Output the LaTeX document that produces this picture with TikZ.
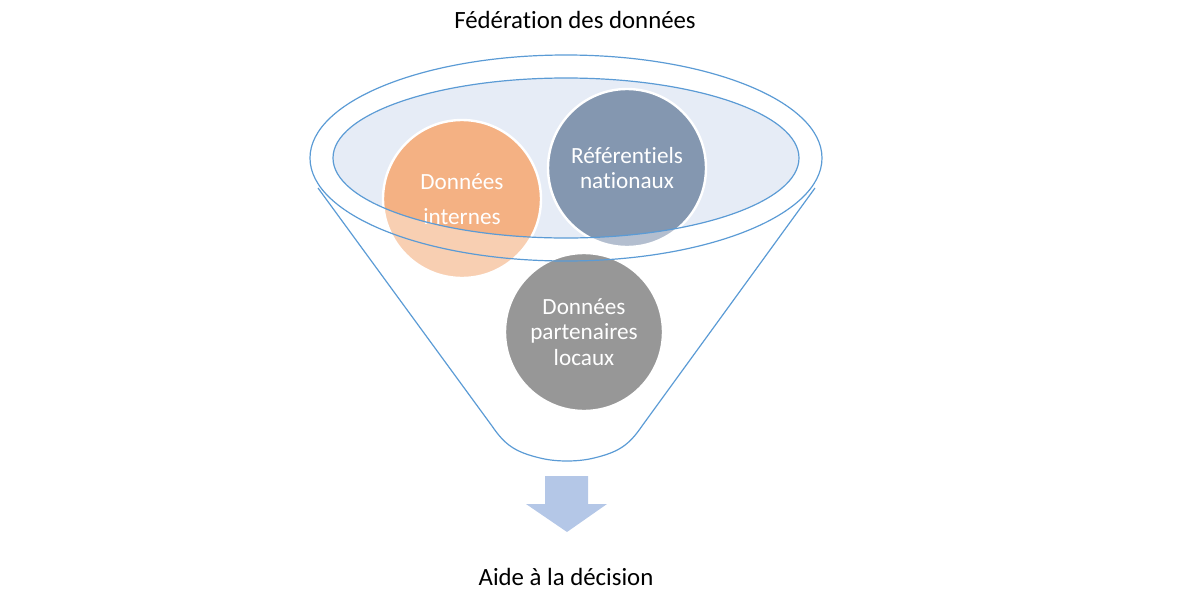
\documentclass[tikz,border=0pt]{standalone}
\usepackage{fontspec}
\setmainfont{Carlito}[Ligatures=NoCommon]
\usetikzlibrary{backgrounds}
\definecolor{fondbleu}{HTML}{E6ECF6}
\definecolor{trait}{HTML}{5B9BD5}
\definecolor{orangeclair}{HTML}{F8CFB2}
\definecolor{orangefonce}{HTML}{F4B183}
\definecolor{bleuclair}{HTML}{B3BECF}
\definecolor{bleufonce}{HTML}{8497B0}
\definecolor{gris}{HTML}{979797}
\definecolor{fleche}{HTML}{B4C7E7}
\begin{document}
\begin{tikzpicture}[x=0.5pt,y=-0.5pt]
\tikzset{bulle/.style={circle, draw=white, line width=1.2pt, minimum size=79pt, inner sep=0pt, text=white, align=center, font=\fontsize{11.6}{12.8}\selectfont}}
\tikzset{titre/.style={font=\fontsize{12.4}{14}\selectfont}}
\tikzset{entonnoir/.style={draw=trait, line width=0.6pt}}
\useasboundingbox (0,0) rectangle (1200,600);
\node[titre] (fed) at (575,20) {Fédération des données};
\node[bulle] (DI) at (462,199) {Données\\[4.5pt]internes};
\node[bulle] (RN) at (627,168) {Référentiels\\nationaux};
\node[bulle, fill=gris] (DP) at (584,332) {Données\\partenaires\\locaux};
\begin{scope}[on background layer]
\fill[fondbleu] (566,158) ellipse [x radius=233, y radius=80];
\fill[orangeclair] (DI.center) circle [radius=79];
\fill[bleuclair] (RN.center) circle [radius=79];
\clip (566,158) ellipse [x radius=233, y radius=80];
\fill[orangefonce] (DI.center) circle [radius=79];
\fill[bleufonce] (RN.center) circle [radius=79];
\end{scope}
\draw[entonnoir] (566,158) ellipse [x radius=256, y radius=103];
\draw[entonnoir] (566,158) ellipse [x radius=233, y radius=80];
\draw[entonnoir] (318,188) -- (492,426) .. controls (505,445) and (515,452) .. (540,458) .. controls (556,462) and (578,462) .. (594,458) .. controls (619,452) and (629,445) .. (642,426) -- (815,188);
\fill[fleche] (545,476) -- (588,476) -- (588,504) -- (607,504) -- (567,532) -- (526,504) -- (545,504) -- cycle;
\node[titre] (aide) at (566,577) {Aide à la décision};
\end{tikzpicture}
\end{document}
